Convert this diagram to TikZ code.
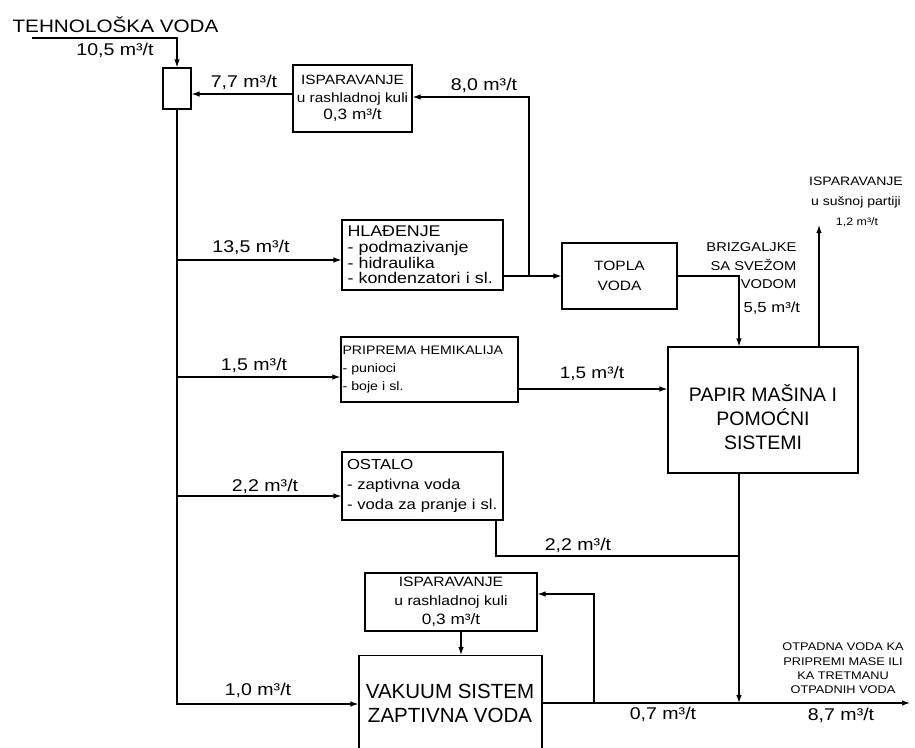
\documentclass[tikz,border=0pt]{standalone}
\usepackage{fontspec}
\setmainfont{Liberation Sans}[FakeStretch=1.15]
\newfontfamily\plainf{Liberation Sans}
\usetikzlibrary{arrows.meta}
\begin{document}
\begin{tikzpicture}[x=1pt,y=-1pt,line width=1.15pt,
  arr/.style={-{Latex[length=8pt,width=5.5pt]}},
  box/.style={draw,rectangle,inner sep=0pt},
  lbl/.style={inner sep=0pt,font=\fontsize{17}{19}\selectfont},
  txt/.style={inner sep=0pt,align=center}]
\fill[white] (0,0) rectangle (915,747);
\useasboundingbox (0,0) rectangle (915,747);

% ---------- nodes ----------
\node[inner sep=0pt,anchor=west,font=\fontsize{18}{20}\selectfont] (title) at (12,25) {TEHNOLOŠKA VODA};
\node[box,minimum width=28pt,minimum height=41pt] (mix) at (177,88.5) {};
\node[box,minimum width=119pt,minimum height=67pt,align=center,font=\fontsize{13.4}{17.5}\selectfont] (isp1) at (352.5,98.5) {ISPARAVANJE\\u rashladnoj kuli\\{\fontsize{15}{17.5}\selectfont 0,3 m³/t}};
\node[box,text width=150pt,inner xsep=5.5pt,minimum height=70pt,align=left,font=\fontsize{15.5}{15.7}\selectfont] (hlad) at (422.5,255) {HLAĐENJE\\- podmazivanje\\- hidraulika\\- kondenzatori i sl.};
\node[box,minimum width=115pt,minimum height=66pt,align=center,font=\fontsize{13.5}{20}\selectfont] (topla) at (619.5,276) {TOPLA\\VODA};
\node[box,minimum width=190pt,minimum height=126pt] (papir) at (763,410) {};
\node[txt,font=\plainf\fontsize{19.5}{24}\selectfont] (papirt) at (763,417) {PAPIR MAŠINA I\\POMOĆNI\\SISTEMI};
\node[box,text width=174pt,inner xsep=1.5pt,minimum height=65pt,align=left,font=\fontsize{12.3}{18}\selectfont] (prip) at (429.5,369.5) {PRIPREMA HEMIKALIJA\\- punioci\\- boje i sl.};
\node[box,text width=151pt,inner xsep=5pt,minimum height=68pt,align=left,font=\fontsize{14.5}{20}\selectfont] (ostalo) at (422.5,486) {OSTALO\\- zaptivna voda\\- voda za pranje i sl.};
\node[box,minimum width=172pt,minimum height=58pt,align=center,font=\fontsize{13.6}{19}\selectfont] (isp2) at (451,602) {ISPARAVANJE\\u rashladnoj kuli\\{\fontsize{15}{19}\selectfont 0,3 m³/t}};
\node[box,minimum width=183pt,minimum height=100pt,anchor=north] (vak) at (450.5,655) {};
\node[txt,font=\plainf\fontsize{20.5}{24}\selectfont] (vakt) at (450,703) {VAKUUM SISTEM\\ZAPTIVNA VODA};

% ---------- texts ----------
\node[lbl] (l105) at (115,50) {10,5 m³/t};
\node[lbl] (l77) at (244,82) {7,7 m³/t};
\node[lbl] (l80) at (484,85) {8,0 m³/t};
\node[lbl] (l135) at (251,247) {13,5 m³/t};
\node[lbl] (l15a) at (254,365) {1,5 m³/t};
\node[lbl,font=\fontsize{16.5}{19}\selectfont] (l15b) at (592,374) {1,5 m³/t};
\node[lbl] (l22a) at (265,486) {2,2 m³/t};
\node[lbl] (l22b) at (578,545) {2,2 m³/t};
\node[lbl] (l10) at (258,690) {1,0 m³/t};
\node[lbl] (l07) at (663,714) {0,7 m³/t};
\node[lbl] (l87) at (841,715) {8,7 m³/t};
\node[inner sep=0pt,align=right,anchor=east,font=\fontsize{12.8}{18.5}\selectfont] (brz) at (797,266) {BRIZGALJKE\\SA SVEŽOM\\VODOM};
\node[lbl,anchor=west,font=\fontsize{14.5}{17}\selectfont] (l55) at (743,308) {5,5 m³/t};
\node[txt,font=\fontsize{12.2}{19.5}\selectfont] (isp3) at (856,192.5) {ISPARAVANJE\\u sušnoj partiji};
\node[lbl,font=\fontsize{10.8}{12}\selectfont] (l12) at (857,222) {1,2 m³/t};
\node[txt,font=\fontsize{11.1}{14.3}\selectfont] (otp) at (843,668.5) {OTPADNA VODA KA\\PRIPREMI MASE ILI\\KA TRETMANU\\OTPADNIH VODA};

% ---------- coordinates ----------
\coordinate (tin) at (32,38);
\coordinate (b1) at (177,260);
\coordinate (b2) at (177,377);
\coordinate (b3) at (177,496);
\coordinate (j1) at (529,276);
\coordinate (j2) at (739,276);
\coordinate (j3) at (739,556);
\coordinate (j4) at (739,703);
\coordinate (j5) at (594,703);
\coordinate (vout) at (910,703);
\coordinate (up) at (819,225);

% ---------- connectors ----------
\draw[arr] (tin) -| (mix.north);
\draw[arr] (isp1.west |- 0,94) -- (mix.east |- 0,94);
\draw[arr] (mix.south) |- (vak.west |- 0,704);
\draw[arr] (b1) -- (hlad.west |- b1);
\draw[arr] (b2) -- (prip.west |- b2);
\draw[arr] (b3) -- (ostalo.west |- b3);
\draw[arr] (hlad.east |- topla.west) -- (topla.west);
\draw[arr] (j1) |- (isp1.east |- 0,97);
\draw[arr] (topla.east) -- (j2) -- (j2 |- papir.north);
\draw[arr] (papir.north -| up) -- (up);
\draw[arr] (prip.east |- 0,389) -- (papir.west |- 0,389);
\draw (ostalo.south -| 496,0) |- (j3);
\draw[arr] (papir.south -| j4) -- (j4);
\draw[arr] (vak.east |- vout) -- (vout);
\draw[arr] (j5) |- (isp2.east |- 0,594);
\draw[arr] (isp2.south -| 461,0) -- (vak.north -| 461,0);
\end{tikzpicture}
\end{document}
